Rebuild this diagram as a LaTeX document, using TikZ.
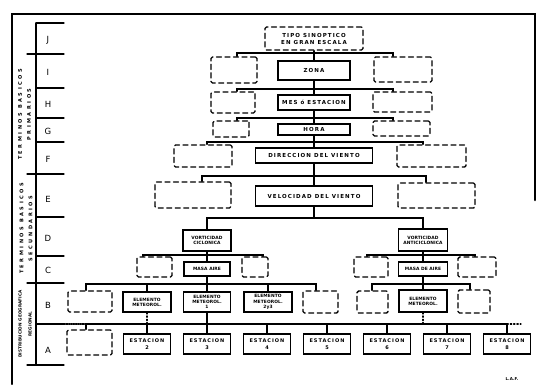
\documentclass[tikz,border=0pt]{standalone}
\usepackage{fontspec}
\usepackage{tikz}
\usetikzlibrary{positioning}
\newfontfamily\hand{DejaVu Sans}[LetterSpace=20]
\newfontfamily\handn{DejaVu Sans}[LetterSpace=2]
\newfontfamily\handw{DejaVu Sans}[LetterSpace=50]

\begin{document}
\begin{tikzpicture}[x=1pt,y=-1pt,line cap=round,
  sbox/.style={draw,line width=1.3pt,inner sep=0pt,align=center,font=\hand\bfseries\fontsize{5.5}{6.5}\selectfont},
  nbox/.style={sbox,font=\handn\bfseries\fontsize{4.4}{5.2}\selectfont},
  gbox/.style={draw,line width=1.4pt,dash pattern=on 5pt off 3.5pt,rounded corners=1.5pt,inner sep=0pt},
  lvl/.style={font=\hand\fontsize{8.5}{9}\selectfont},
  side/.style={rotate=90,align=center,font=\handw\bfseries\fontsize{5}{9}\selectfont},
  link/.style={line width=1.3pt}]
  % synoptic scale tree, drawn in pixel units of the 536x384 sheet
  \useasboundingbox (0,0) rectangle (536,384);
  \draw[line width=2.5pt] (12,384) -- (12,14) -- (535,14) -- (535,200);

  % level scale on the left
  \draw[link] (36,23) -- (36,365);
  \foreach \y in {23,88,118,142,217,256,324} \draw[link] (36,\y) -- (64,\y);
  \foreach \y in {54,174,283,365} \draw[link] (27,\y) -- (64,\y);
  \foreach \l/\y in {J/40,I/72,H/104,G/131,F/159,E/199,D/238,C/270,B/305,A/350}
    \node[lvl] (lv\l) at (48,\y) {\l};
  \node[side] (prim) at (24.5,114.5) {TERMINOS BASICOS\\PRIMARIOS};
  \node[side] (secu) at (26,228.5) {TERMINOS BASICOS\\SECUNDARIOS};
  \node[side,font=\handn\bfseries\fontsize{4.2}{10}\selectfont] (regi) at (25,324) {DISTRIBUCION GEOGRAFICA\\REGIONAL};

  % trunk, levels J to E
  \node[gbox,align=center,font=\hand\bfseries\fontsize{5.5}{7}\selectfont,minimum width=98,minimum height=23] (tipo) at (314,38.5) {TIPO SINOPTICO\\EN GRAN ESCALA};
  \node[sbox,minimum width=72,minimum height=19] (zona) at (314,70.5) {ZONA};
  \node[gbox,minimum width=46,minimum height=26] (zonaL) at (234,70) {};
  \node[gbox,minimum width=58,minimum height=25] (zonaR) at (403,69.5) {};
  \node[sbox,minimum width=72,minimum height=15] (mes) at (314,102.5) {MES ó ESTACION};
  \node[gbox,minimum width=44,minimum height=21] (mesL) at (233,102.5) {};
  \node[gbox,minimum width=59,minimum height=20] (mesR) at (402.5,102) {};
  \node[sbox,minimum width=72,minimum height=11] (hora) at (314,129.5) {HORA};
  \node[gbox,minimum width=36,minimum height=16] (horaL) at (231,129) {};
  \node[gbox,minimum width=57,minimum height=15] (horaR) at (401.5,128.5) {};
  \node[sbox,minimum width=117,minimum height=15] (dir) at (314,155.5) {DIRECCION DEL VIENTO};
  \node[gbox,minimum width=58,minimum height=22] (dirL) at (203,156) {};
  \node[gbox,minimum width=69,minimum height=22] (dirR) at (431.5,156) {};
  \node[sbox,minimum width=117,minimum height=20] (vel) at (314,196) {VELOCIDAD DEL VIENTO};
  \node[gbox,minimum width=76,minimum height=26] (velL) at (193,195) {};
  \node[gbox,minimum width=77,minimum height=25] (velR) at (436.5,195.5) {};
  \draw[link] (tipo) -- (zona) -- (mes) -- (hora) -- (dir) -- (vel);

  \coordinate (iL) at (237,53);  \coordinate (iR) at (393,53);
  \coordinate (hL) at (237,89);  \coordinate (hR) at (393,89);
  \coordinate (gL) at (237,118); \coordinate (gR) at (393,118);
  \coordinate (fL) at (207,142); \coordinate (fR) at (423,142);
  \coordinate (eL) at (202,176); \coordinate (eR) at (426,176);
  \draw[link] (zonaL.north -| iL) -- (iL) -- (iR) -- (zonaR.north -| iR);
  \draw[link] (mesL.north -| hL) -- (hL) -- (hR) -- (mesR.north -| hR);
  \draw[link] (horaL.north -| gL) -- (gL) -- (gR) -- (horaR.north -| gR);
  \draw[link] (dirL.north -| fL) -- (fL) -- (fR) -- (dirR.north -| fR);
  \draw[link] (velL.north -| eL) -- (eL) -- (eR) -- (velR.north -| eR);

  % level D, two branches
  \node[nbox,minimum width=48,minimum height=21] (cic) at (207,240.5) {VORTICIDAD\\CICLONICA};
  \node[nbox,minimum width=49,minimum height=22] (anti) at (423,240) {VORTICIDAD\\ANTICICLONICA};
  \coordinate (dL) at (207,218); \coordinate (dR) at (423,218);
  \draw[link] (vel) -- (vel |- dL);
  \draw[link] (cic) -- (dL) -- (dR) -- (anti);

  % level C
  \node[nbox,minimum width=46,minimum height=14] (masaL) at (207,269) {MASA AIRE};
  \node[gbox,minimum width=35,minimum height=20] (cL1) at (154.5,267) {};
  \node[gbox,minimum width=26,minimum height=20] (cL2) at (255,267) {};
  \node[nbox,minimum width=49,minimum height=14] (masaR) at (423,269) {MASA DE AIRE};
  \node[gbox,minimum width=34,minimum height=20] (cR1) at (371,267) {};
  \node[gbox,minimum width=38,minimum height=20] (cR2) at (477,267) {};
  \coordinate (cLa) at (143,255); \coordinate (cLb) at (263,255);
  \coordinate (cRa) at (367,255); \coordinate (cRb) at (475,255);
  \draw[link] (cic) -- (masaL);
  \draw[link] (cL1.north -| cLa) -- (cLa) -- (cLb) -- (cL2.north -| cLb);
  \draw[link] (anti) -- (masaR);
  \draw[link] (cR1.north -| cRa) -- (cRa) -- (cRb) -- (cR2.north -| cRb);

  % level B
  \node[gbox,minimum width=44,minimum height=21] (bL0) at (90,301.5) {};
  \node[nbox,minimum width=48,minimum height=20] (elem1) at (147,302) {ELEMENTO\\METEOROL.};
  \node[nbox,minimum width=47,minimum height=20] (elem2) at (207,302) {ELEMENTO\\METEOROL.\\1};
  \node[nbox,minimum width=48,minimum height=20] (elem3) at (268,302) {ELEMENTO\\METEOROL.\\2y3};
  \node[gbox,minimum width=35,minimum height=22] (bL4) at (320.5,302) {};
  \node[gbox,minimum width=31,minimum height=22] (bR1) at (372.5,302) {};
  \node[nbox,minimum width=48,minimum height=22] (elemR) at (423,301) {ELEMENTO\\METEOROL.};
  \node[gbox,minimum width=32,minimum height=23] (bR2) at (474,301.5) {};
  \coordinate (bLa) at (86,284);  \coordinate (bLb) at (316,284);
  \coordinate (bRa) at (372,284); \coordinate (bRb) at (470,284);
  \draw[link] (masaL) -- (elem2);
  \draw[link] (bL0.north -| bLa) -- (bLa) -- (bLb) -- (bL4.north -| bLb);
  \draw[link] (elem1) -- (elem1 |- bLa);
  \draw[link] (elem3) -- (elem3 |- bLa);
  \draw[link] (masaR) -- (elemR);
  \draw[link] (bR1.north -| bRa) -- (bRa) -- (bRb) -- (bR2.north -| bRb);

  % level A, stations
  \node[gbox,minimum width=45,minimum height=25] (aL) at (89.5,342.5) {};
  \foreach \n [evaluate=\n as \cx using {147+60*(\n-2)}] in {2,...,8}
    \node[sbox,font=\hand\bfseries\fontsize{5}{6.5}\selectfont,minimum width=47,minimum height=20] (est\n) at (\cx,344) {ESTACION\\\n};
  \coordinate (aa) at (86,324); \coordinate (ab) at (507,324);
  \draw[link] (aL.north -| aa) -- (aa) -- (ab);
  \draw[link,densely dotted] (64,324) -- (aa);
  \draw[link,dotted] (ab) -- ++(14,0);
  \draw[link] (elem2) -- (est3);
  \draw[link,dotted] (elem1) -- (elem1 |- aa);
  \draw[link,dotted] (elemR) -- (elemR |- aa);
  \foreach \n in {2,4,5,6,7,8} \draw[link] (est\n) -- (est\n |- aa);

  \node[font=\handn\bfseries\fontsize{4}{5}\selectfont] (firma) at (512,379) {L.A.F.};
\end{tikzpicture}
\end{document}
